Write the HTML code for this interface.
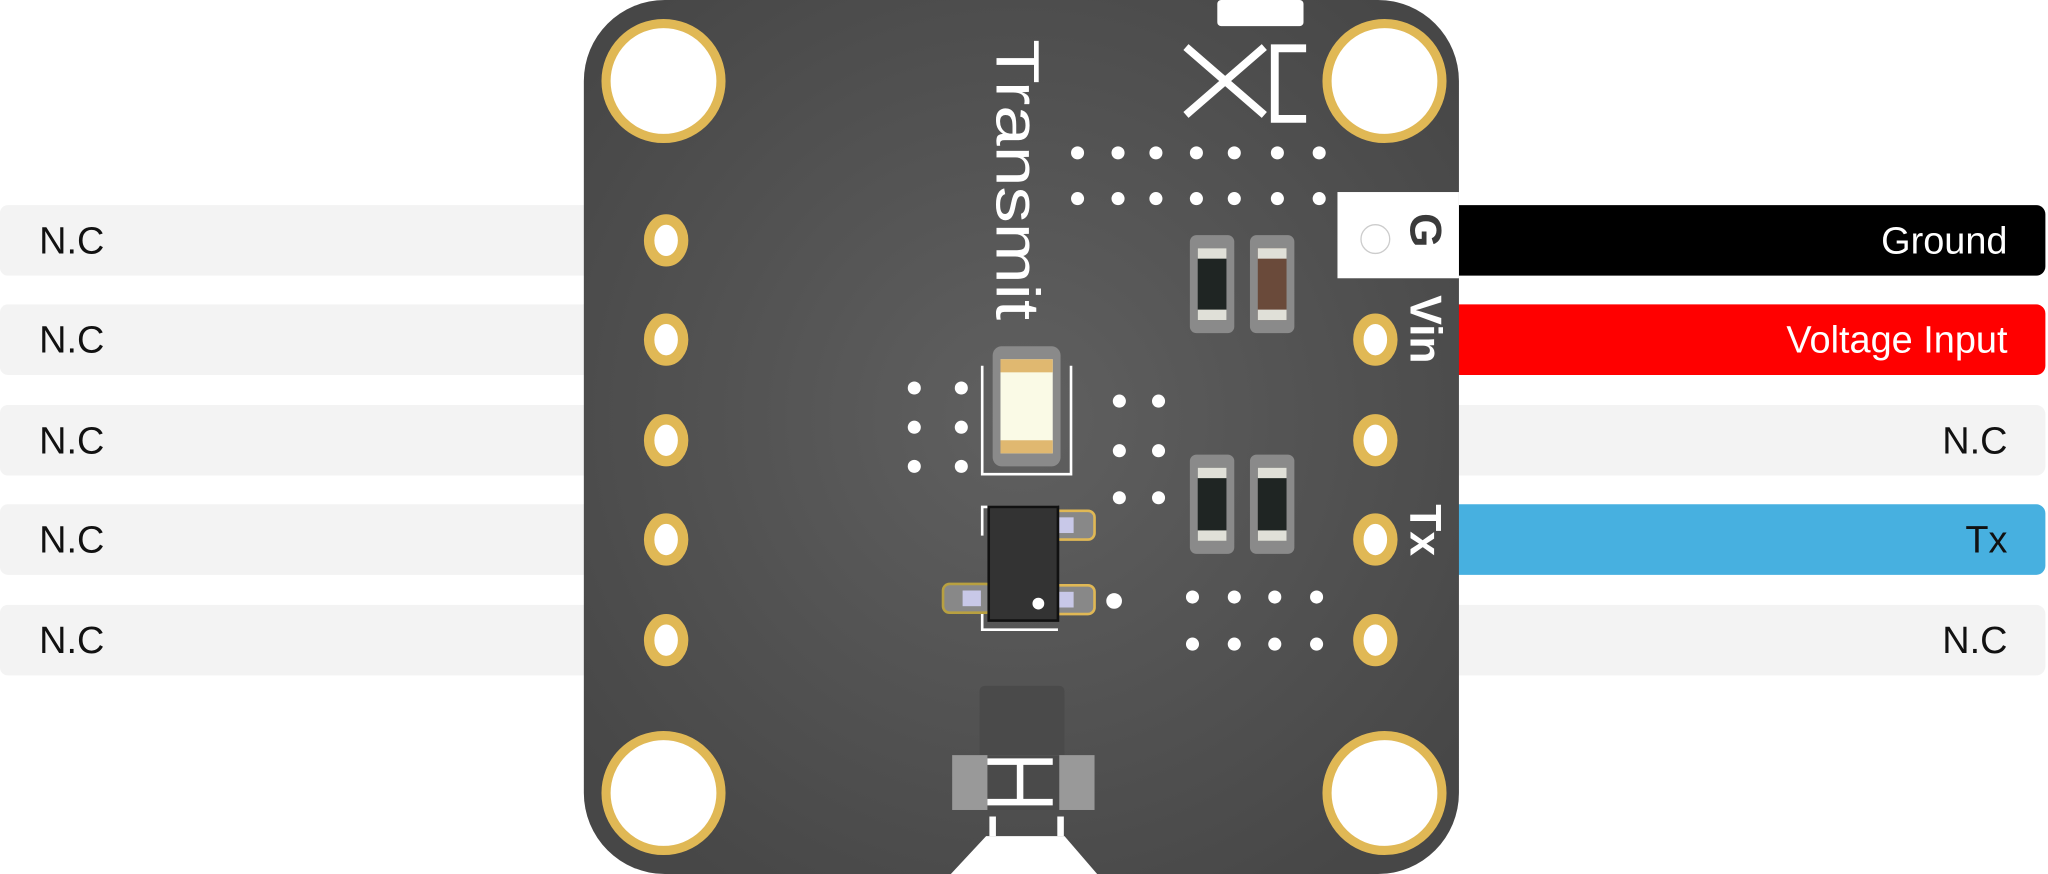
<!DOCTYPE html>
<html><head><meta charset="utf-8"><style>
html,body{margin:0;padding:0;background:#fff;}
svg{display:block}
text{font-family:"Liberation Sans",sans-serif}
</style></head><body>
<svg width="2048" height="874" viewBox="0 0 1568 669" preserveAspectRatio="none" xmlns="http://www.w3.org/2000/svg">
<defs>
<radialGradient id="bg" gradientUnits="userSpaceOnUse" cx="780" cy="320" r="420">
<stop offset="0" stop-color="#606060"/><stop offset="1" stop-color="#474747"/>
</radialGradient>
</defs>
<g fill="#f3f3f3">
<rect x="0" y="157" width="460" height="54" rx="6"/>
<rect x="0" y="233" width="460" height="54" rx="6"/>
<rect x="0" y="310" width="460" height="54" rx="6"/>
<rect x="0" y="386" width="460" height="54" rx="6"/>
<rect x="0" y="463" width="460" height="54" rx="6"/>
</g>
<g font-size="29" fill="#111">
<text x="30" y="194">N.C</text><text x="30" y="270">N.C</text><text x="30" y="347">N.C</text><text x="30" y="423">N.C</text><text x="30" y="500">N.C</text>
</g>
<rect x="1100" y="157" width="466" height="54" rx="7" fill="#000"/>
<rect x="1100" y="233" width="466" height="54" rx="7" fill="#ff0000"/>
<rect x="1100" y="310" width="466" height="54" rx="7" fill="#f3f3f3"/>
<rect x="1100" y="386" width="466" height="54" rx="7" fill="#47b0e0"/>
<rect x="1100" y="463" width="466" height="54" rx="7" fill="#f3f3f3"/>
<g font-size="29" text-anchor="end">
<text x="1537" y="194" fill="#fff">Ground</text>
<text x="1537" y="270" fill="#fff">Voltage Input</text>
<text x="1537" y="347" fill="#111">N.C</text>
<text x="1537" y="423" fill="#111">Tx</text>
<text x="1537" y="500" fill="#111">N.C</text>
</g>
<rect x="447" y="0" width="670" height="669" rx="62" fill="url(#bg)"/>
<polygon points="728,669 755,640 815,640 840,669" fill="#fff"/>
<rect x="932" y="0" width="66" height="20" rx="3" fill="#fff"/>
<g fill="#fff" stroke="#e0b855" stroke-width="7">
<circle cx="508" cy="62" r="44"/><circle cx="1060" cy="62" r="44"/>
<circle cx="508" cy="607" r="44"/><circle cx="1060" cy="607" r="44"/>
</g>
<g fill="#fff" stroke="#e0b855" stroke-width="8">
<ellipse cx="510" cy="184" rx="13" ry="16"/><ellipse cx="510" cy="260" rx="13" ry="16"/><ellipse cx="510" cy="337" rx="13" ry="16"/><ellipse cx="510" cy="413" rx="13" ry="16"/><ellipse cx="510" cy="490" rx="13" ry="16"/>
<ellipse cx="1053" cy="260" rx="13" ry="16"/><ellipse cx="1053" cy="337" rx="13" ry="16"/><ellipse cx="1053" cy="413" rx="13" ry="16"/><ellipse cx="1053" cy="490" rx="13" ry="16"/>
</g>
<rect x="1024" y="147" width="93" height="66" fill="#fff"/>
<circle cx="1053" cy="183" r="11" fill="#fff" stroke="#ccc" stroke-width="1"/>
<text transform="translate(763,30) rotate(90)" font-size="47" textLength="215" lengthAdjust="spacingAndGlyphs" fill="#fff">Transmit</text>
<g font-size="34" font-weight="bold">
<text transform="translate(1080,163) rotate(90)" fill="#3a3a3a">G</text>
<text transform="translate(1080,226) rotate(90)" fill="#fff">Vin</text>
<text transform="translate(1080,386) rotate(90)" fill="#fff">Tx</text>
</g>
<g stroke="#fff" stroke-width="6" fill="none">
<path d="M908,36 L968,88 M908,88 L968,36"/>
<path d="M976,34 L976,94 M976,37 L1000,37 M976,91 L1000,91"/>
</g>
<g fill="#fff">
<circle cx="825" cy="117" r="5"/><circle cx="856" cy="117" r="5"/><circle cx="885" cy="117" r="5"/><circle cx="916" cy="117" r="5"/><circle cx="945" cy="117" r="5"/><circle cx="978" cy="117" r="5"/><circle cx="1010" cy="117" r="5"/>
<circle cx="825" cy="152" r="5"/><circle cx="856" cy="152" r="5"/><circle cx="885" cy="152" r="5"/><circle cx="916" cy="152" r="5"/><circle cx="945" cy="152" r="5"/><circle cx="978" cy="152" r="5"/><circle cx="1010" cy="152" r="5"/>
<circle cx="700" cy="297" r="5"/><circle cx="736" cy="297" r="5"/><circle cx="700" cy="327" r="5"/><circle cx="736" cy="327" r="5"/><circle cx="700" cy="357" r="5"/><circle cx="736" cy="357" r="5"/>
<circle cx="857" cy="307" r="5"/><circle cx="887" cy="307" r="5"/><circle cx="857" cy="345" r="5"/><circle cx="887" cy="345" r="5"/><circle cx="857" cy="381" r="5"/><circle cx="887" cy="381" r="5"/>
<circle cx="913" cy="457" r="5"/><circle cx="945" cy="457" r="5"/><circle cx="976" cy="457" r="5"/><circle cx="1008" cy="457" r="5"/>
<circle cx="913" cy="493" r="5"/><circle cx="945" cy="493" r="5"/><circle cx="976" cy="493" r="5"/><circle cx="1008" cy="493" r="5"/>
<circle cx="853" cy="460" r="6"/>
</g>
<g>
<rect x="911" y="180" width="34" height="75" rx="5" fill="#8a8a8a"/><rect x="917" y="190" width="22" height="55" fill="#1f2523"/><rect x="917" y="190" width="22" height="8" fill="#e0e0d8"/><rect x="917" y="237" width="22" height="8" fill="#e0e0d8"/>
<rect x="957" y="180" width="34" height="75" rx="5" fill="#8a8a8a"/><rect x="963" y="190" width="22" height="55" fill="#6a4a3a"/><rect x="963" y="190" width="22" height="8" fill="#e0e0d8"/><rect x="963" y="237" width="22" height="8" fill="#e0e0d8"/>
<rect x="911" y="348" width="34" height="76" rx="5" fill="#8a8a8a"/><rect x="917" y="358" width="22" height="56" fill="#1f2523"/><rect x="917" y="358" width="22" height="8" fill="#e0e0d8"/><rect x="917" y="406" width="22" height="8" fill="#e0e0d8"/>
<rect x="957" y="348" width="34" height="76" rx="5" fill="#8a8a8a"/><rect x="963" y="358" width="22" height="56" fill="#1f2523"/><rect x="963" y="358" width="22" height="8" fill="#e0e0d8"/><rect x="963" y="406" width="22" height="8" fill="#e0e0d8"/>
</g>
<rect x="760" y="265" width="52" height="92" rx="7" fill="#8a8a8a"/>
<rect x="766" y="275" width="40" height="72" fill="#fafae6"/>
<rect x="766" y="275" width="40" height="10" fill="#e0b870"/><rect x="766" y="337" width="40" height="10" fill="#e0b870"/>
<path d="M752,280 V363 H820 V280" stroke="#fff" stroke-width="2" fill="none"/>
<path d="M752,410 V388 H810 M752,458 V482 H810" stroke="#fff" stroke-width="2" fill="none"/>
<rect x="800" y="391" width="38" height="22" rx="5" fill="#888" stroke="#e0b855" stroke-width="2"/>
<rect x="800" y="448" width="38" height="22" rx="5" fill="#888" stroke="#e0b855" stroke-width="2"/>
<rect x="722" y="447" width="38" height="22" rx="5" fill="#888" stroke="#b8a040" stroke-width="2"/>
<rect x="808" y="396" width="14" height="12" fill="#c8c8e8"/><rect x="808" y="453" width="14" height="12" fill="#c8c8e8"/><rect x="737" y="452" width="14" height="12" fill="#c8c8e8"/>
<rect x="757" y="388" width="53" height="87" fill="#333" stroke="#111" stroke-width="2"/>
<circle cx="795" cy="462" r="4.5" fill="#fff"/>
<rect x="750" y="525" width="65" height="58" rx="4" fill="#4a4a4a"/>
<rect x="729" y="578" width="109" height="42" fill="#999"/>
<rect x="756" y="578" width="55" height="42" fill="#4a4a4a"/>
<g stroke="#fff" stroke-width="5" fill="none">
<path d="M756,583 H806 M756,614 H806 M781,583 V614"/>
<path d="M760,625 V640 M812,625 V640"/>
</g>
</svg>
</body></html>
